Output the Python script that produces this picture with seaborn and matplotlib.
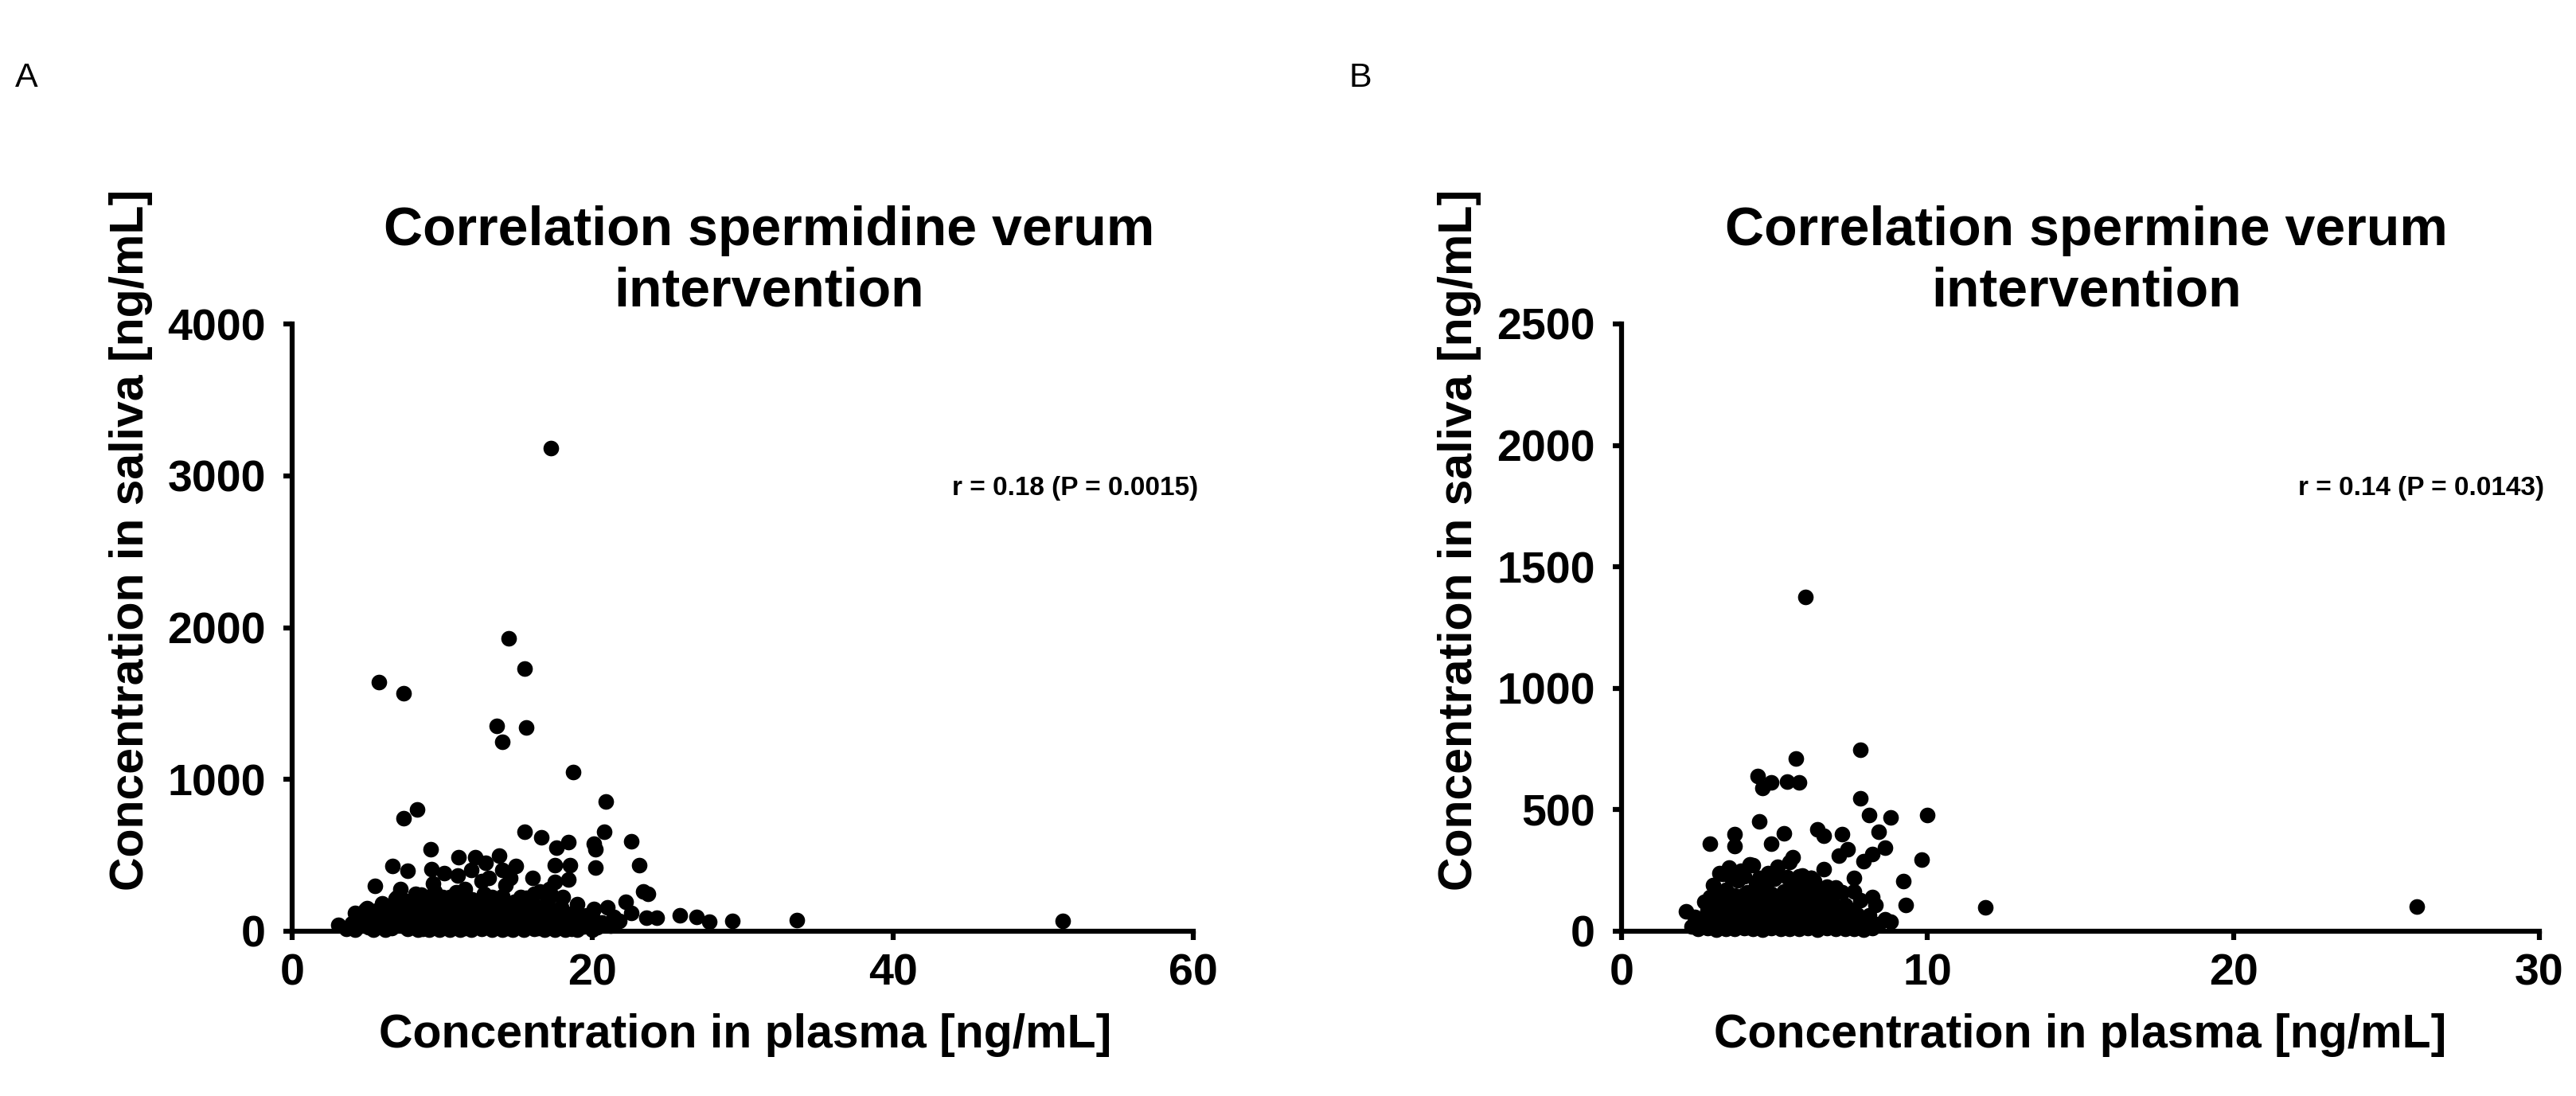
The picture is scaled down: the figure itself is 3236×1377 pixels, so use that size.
import numpy as np
import pandas as pd
import matplotlib
matplotlib.use("Agg")
import matplotlib.pyplot as plt
import seaborn as sns

# ---------------- data ----------------
# Panel A: spermidine, plasma (x) vs saliva (y)
spd_plasma_upper = [17.2, 14.4, 15.5, 5.8, 7.4, 13.6, 14.0, 15.6, 18.7, 20.9, 7.4, 8.3, 15.5, 16.6,
                    20.8, 22.6, 17.6, 18.4, 20.1, 20.2, 20.2, 17.5, 18.5, 18.4, 16.0, 14.9, 23.1, 9.2,
                    6.7, 7.7, 5.5, 11.1, 12.2, 13.8, 12.9, 11.9, 9.3, 10.1, 11.0, 14.0, 14.5, 14.2,
                    13.1, 17.1, 17.5, 18.0, 7.2, 4.2, 3.1, 4.9, 6.1, 7.0, 8.2, 9.4, 9.5, 10.5, 11.5,
                    12.6, 13.3, 15.2, 16.1, 18.9, 20.1, 21.0, 22.2, 22.6, 23.4, 23.6, 23.7, 24.3,
                    25.8, 26.9, 27.8, 29.3, 33.6, 51.3]
spd_saliva_upper = [3180, 1930, 1730, 1640, 1570, 1350, 1250, 1340, 1048, 856, 742, 800, 655, 620,
                    655, 590, 550, 585, 576, 541, 419, 436, 436, 341, 353, 428, 433, 538,
                    428, 398, 297, 486, 489, 498, 451, 402, 410, 384, 367, 402, 349, 306,
                    349, 279, 323, 227, 279, 122, 44, 140, 175, 227, 245, 314, 262, 227, 279,
                    332, 227, 227, 245, 140, 148, 157, 192, 122, 262, 87, 245, 87,
                    105, 96, 65, 70, 73, 66]
spd_plasma_dense = [3.6, 4.4, 5.1, 5.9, 6.6, 7.3, 8.0, 8.7, 9.4, 10.1, 10.8, 11.5, 12.2, 12.9, 13.6,
                    14.3, 15.0, 15.7, 16.4, 17.1, 17.8, 18.6, 19.4, 20.3, 21.2,
                    4.0, 4.8, 5.5, 6.3, 7.0, 7.8, 8.5, 9.2, 9.9, 10.6, 11.3, 12.0, 12.7, 13.4,
                    14.1, 14.8, 15.5, 16.2, 16.9, 17.6, 18.4, 19.2, 20.6, 21.8,
                    4.6, 5.3, 6.0, 6.8, 7.5, 8.2, 9.0, 9.7, 10.4, 11.1, 11.8, 12.5, 13.2, 13.9,
                    14.6, 15.3, 16.0, 16.7, 17.4, 18.2, 19.6, 21.4,
                    5.0, 6.4, 7.1, 7.9, 8.8, 9.6, 10.3, 11.0, 11.7, 12.4, 13.1, 13.8, 14.5, 15.3,
                    16.2, 17.0, 17.9, 19.0,
                    6.9, 8.6, 10.0, 10.9, 12.0, 12.8, 14.0, 15.6, 16.5, 17.3,
                    4.2, 5.4, 6.2, 7.7, 8.4, 9.1, 9.8, 10.5, 11.2, 11.9, 12.6, 13.3, 14.0, 14.7,
                    15.4, 16.1, 16.8, 17.5, 18.2, 19.0, 20.0,
                    4.5, 5.2, 5.8, 6.5, 7.2, 7.9, 8.6, 9.3, 10.0, 10.7, 11.4, 12.1, 12.8, 13.5,
                    14.2, 14.9, 15.6, 16.3, 17.0, 17.7, 18.5, 19.8,
                    5.0, 5.7, 6.5, 7.2, 8.0, 8.7, 9.5, 10.2, 10.9, 11.6, 12.3, 13.0, 13.7, 14.4,
                    15.1, 15.8, 16.5, 17.2, 18.0, 18.8, 20.0,
                    5.6, 6.2, 7.4, 8.3, 9.1, 10.6, 11.4, 12.1, 12.9, 13.6, 14.3, 15.0, 15.8, 16.6,
                    17.6,
                    6.0, 7.6, 8.4, 9.2, 10.7, 11.5, 12.6, 13.4, 14.8, 15.9, 16.9]
spd_saliva_dense = [18, 32, 25, 40, 22, 35, 28, 15, 38, 24, 30, 20, 36, 26, 33,
                    19, 29, 41, 23, 34, 27, 17, 31, 25, 37,
                    55, 72, 60, 80, 52, 68, 75, 58, 82, 64, 70, 54, 78, 62,
                    73, 57, 66, 81, 59, 71, 63, 76, 58, 69,
                    95, 110, 125, 100, 118, 92, 130, 105, 115, 98, 128, 108, 120, 94,
                    112, 126, 102, 116, 99, 122, 104, 96,
                    150, 165, 185, 145, 175, 160, 195, 142, 170, 188, 155, 178, 148, 190,
                    162, 172, 158, 180,
                    215, 240, 225, 255, 210, 248, 232, 220, 260, 238,
                    10, 12, 8, 14, 9, 11, 13, 10, 8, 12, 15, 9, 11, 13,
                    10, 14, 8, 12, 9, 11, 10,
                    45, 50, 42, 48, 55, 44, 52, 47, 40, 56, 49, 43, 51, 46,
                    58, 41, 53, 45, 50, 44, 48, 52,
                    88, 92, 85, 97, 90, 86, 95, 89, 93, 87, 99, 91, 85, 96,
                    88, 94, 90, 86, 92, 88, 95,
                    135, 130, 140, 132, 138, 145, 128, 136, 142, 131, 139, 134, 146, 130,
                    137,
                    182, 200, 195, 205, 188, 210, 198, 205, 192, 200, 185]

# Panel B: spermine, plasma (x) vs saliva (y)
spm_plasma_upper = [6.0, 7.8, 5.7, 4.45, 4.6, 4.9, 5.4, 5.8, 7.8, 8.1, 8.8, 10.0, 4.5, 3.7, 3.7,
                    2.9, 5.3, 4.9, 6.4, 6.6, 7.2, 8.4, 8.6, 7.4, 7.1, 7.9, 8.2, 9.8, 5.6, 9.2,
                    9.3, 8.8, 7.6, 7.0, 8.2, 8.3, 7.6, 2.1, 2.9, 3.2, 3.5, 4.3, 6.2, 6.3, 11.9, 26.0]
spm_saliva_upper = [1376, 748, 712, 639, 590, 612, 617, 612, 546, 478, 468, 478, 453, 399, 350,
                    360, 404, 360, 420, 393, 399, 410, 344, 339, 311, 289, 317, 295, 306, 207,
                    109, 38, 218, 180, 142, 109, 164, 82, 142, 240, 262, 273, 218, 175, 98, 100]
spm_plasma_dense = [2.3, 2.6, 2.9, 3.2, 3.5, 3.8, 4.1, 4.4, 4.7, 5.0, 5.3, 5.6, 5.9, 6.2, 6.5, 6.8,
                    7.1, 7.4, 7.7, 8.0, 8.4,
                    2.4, 2.8, 3.1, 3.4, 3.7, 4.0, 4.3, 4.6, 4.9, 5.2, 5.5, 5.8, 6.1, 6.4, 6.7,
                    7.0, 7.3, 7.7, 8.1, 8.6,
                    2.7, 3.0, 3.3, 3.6, 3.9, 4.2, 4.5, 4.8, 5.1, 5.4, 5.7, 6.0, 6.3, 6.6, 6.9,
                    7.3, 7.8,
                    3.0, 3.4, 3.8, 4.1, 4.4, 4.7, 5.0, 5.3, 5.6, 5.9, 6.3, 6.7, 7.2,
                    3.3, 3.9, 4.2, 4.8, 5.1, 5.5, 5.9, 6.6,
                    2.5, 2.8, 3.1, 3.4, 3.7, 4.0, 4.3, 4.6, 4.9, 5.2, 5.5, 5.8, 6.1, 6.4, 6.7,
                    7.0, 7.3, 7.6, 7.9, 8.2,
                    2.6, 3.0, 3.3, 3.6, 3.9, 4.2, 4.5, 4.8, 5.1, 5.4, 5.7, 6.0, 6.3, 6.6, 6.9,
                    7.2, 7.5, 7.9,
                    2.9, 3.2, 3.5, 3.8, 4.1, 4.4, 4.7, 5.0, 5.3, 5.6, 5.9, 6.2, 6.5, 6.8, 7.1,
                    7.5,
                    3.1, 3.5, 3.7, 4.0, 4.3, 4.6, 4.9, 5.2, 5.5, 5.8, 6.1, 6.5, 6.9,
                    3.6, 4.0, 4.5, 5.0, 5.4, 5.8, 6.2]
spm_saliva_dense = [20, 35, 15, 30, 25, 38, 18, 32, 22, 40, 27, 16, 34, 24, 36, 19,
                    29, 23, 37, 26, 31,
                    60, 85, 50, 75, 90, 55, 80, 65, 88, 52, 78, 62, 84, 58, 72,
                    86, 54, 70, 66, 48,
                    120, 100, 140, 110, 135, 98, 145, 125, 105, 138, 115, 130, 102, 142, 118,
                    108, 128,
                    190, 170, 210, 160, 200, 180, 215, 165, 195, 175, 205, 185, 160,
                    235, 250, 275, 240, 265, 285, 230, 255,
                    10, 12, 8, 11, 9, 13, 10, 8, 12, 9, 11, 10, 13, 8, 12,
                    10, 9, 11, 8, 12,
                    45, 50, 42, 48, 44, 52, 46, 41, 49, 43, 51, 47, 45, 50, 42,
                    48, 44, 46,
                    95, 90, 98, 92, 88, 96, 91, 94, 89, 97, 93, 87, 95, 90, 92,
                    88,
                    150, 155, 148, 152, 158, 150, 153, 149, 156, 151, 147, 154, 150,
                    220, 225, 218, 228, 222, 226, 220]

titles = ["Correlation spermidine verum\nintervention", "Correlation spermine verum\nintervention"]
annotations = ["r = 0.18 (P = 0.0015)", "r = 0.14 (P = 0.0143)"]
panel_letters = ["A", "B"]
xlabel = "Concentration in plasma [ng/mL]"
ylabel = "Concentration in saliva [ng/mL]"
a_xticks = [0, 20, 40, 60]
a_yticks = [0, 1000, 2000, 3000, 4000]
b_xticks = [0, 10, 20, 30]
b_yticks = [0, 500, 1000, 1500, 2000, 2500]

# ---------------- plotting ----------------
sns.set_style("ticks")
plt.rcParams["font.family"] = ["Liberation Sans", "DejaVu Sans"]
plt.rcParams["font.weight"] = "bold"
for key in ["text.color", "axes.labelcolor", "xtick.color", "ytick.color", "axes.edgecolor"]:
    plt.rcParams[key] = "black"

df_a = pd.DataFrame({"plasma": spd_plasma_dense + spd_plasma_upper,
                     "saliva": spd_saliva_dense + spd_saliva_upper})
df_b = pd.DataFrame({"plasma": spm_plasma_dense + spm_plasma_upper,
                     "saliva": spm_saliva_dense + spm_saliva_upper})

W, H = 3237, 1377
fig = plt.figure(figsize=(W / 100, H / 100), dpi=100)
fig.patch.set_facecolor("white")

ax_a = fig.add_axes([367 / W, 1 - 1170 / H, (1499 - 367) / W, (1170 - 407) / H])
ax_b = fig.add_axes([2037 / W, 1 - 1170 / H, (3190 - 2037) / W, (1170 - 407) / H])

specs = [
    (ax_a, df_a, a_xticks, a_yticks, (0, 60), (0, 4000)),
    (ax_b, df_b, b_xticks, b_yticks, (0, 30), (0, 2500)),
]

for i, (ax, df, xt, yt, xl, yl) in enumerate(specs):
    sns.scatterplot(data=df, x="plasma", y="saliva", ax=ax, color="black",
                    s=200, linewidth=0, clip_on=False, zorder=3)
    ax.set_xlim(*xl)
    ax.set_ylim(*yl)
    ax.set_xticks(xt)
    ax.set_yticks(yt)
    ax.set_xlabel("")
    ax.set_ylabel("")
    sns.despine(ax=ax)
    for sp in ["left", "bottom"]:
        ax.spines[sp].set_linewidth(4.5)
        ax.spines[sp].set_color("black")
    ax.tick_params(axis="both", direction="out", length=8, width=4.5, color="black",
                   labelsize=40, labelcolor="black")
    ax.tick_params(axis="y", pad=16)
    ax.tick_params(axis="x", pad=12)
    for lab in ax.get_xticklabels() + ax.get_yticklabels():
        lab.set_fontweight("bold")
    ax.set_facecolor("white")
    ax.text(1.005, 0.73, annotations[i], transform=ax.transAxes, ha="right", va="center",
            fontsize=24, fontweight="bold", color="black")

# titles
fig.text(966 / W, 1 - 328 / H, titles[0], ha="center", va="center", fontsize=49,
         fontweight="bold", linespacing=1.25, color="black")
fig.text(2621 / W, 1 - 328 / H, titles[1], ha="center", va="center", fontsize=49,
         fontweight="bold", linespacing=1.25, color="black")

# axis labels
fig.text(165 / W, 1 - 678 / H, ylabel, rotation=90, ha="center", va="center",
         fontsize=42.5, fontweight="bold", color="black")
fig.text(1834 / W, 1 - 678 / H, ylabel, rotation=90, ha="center", va="center",
         fontsize=42.5, fontweight="bold", color="black")
fig.text(936 / W, 1 - 1300 / H, xlabel, ha="center", va="center",
         fontsize=42.5, fontweight="bold", color="black")
fig.text(2613 / W, 1 - 1300 / H, xlabel, ha="center", va="center",
         fontsize=42.5, fontweight="bold", color="black")

# panel letters
fig.text(33 / W, 1 - 98 / H, panel_letters[0], ha="center", va="center", fontsize=31,
         fontweight="normal", color="black")
fig.text(1709 / W, 1 - 98 / H, panel_letters[1], ha="center", va="center", fontsize=31,
         fontweight="normal", color="black")

fig.savefig("out.png", dpi=100, facecolor="white")
